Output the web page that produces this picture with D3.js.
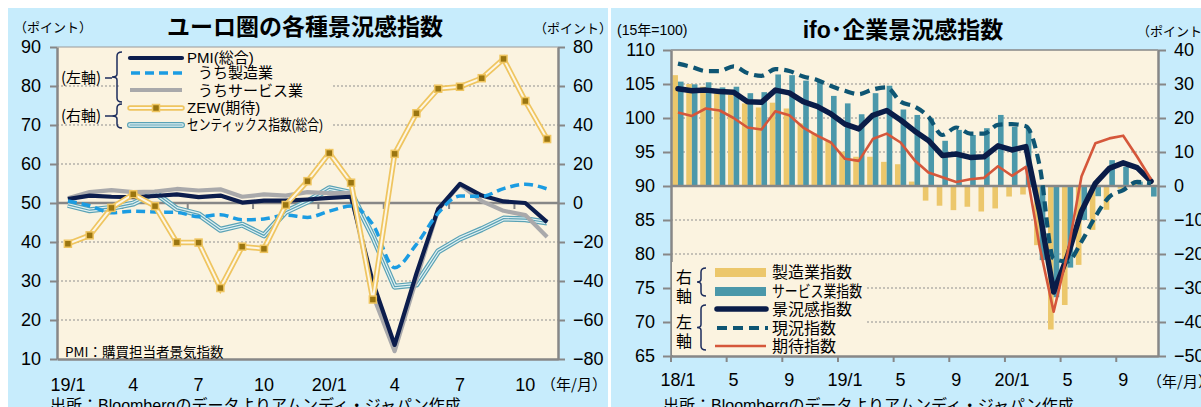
<!DOCTYPE html>
<html lang="ja">
<head>
    <meta charset="UTF-8">
    <title>ユーロ圏・ifo 景況感指数</title>
    <style>
        body { margin: 0; background: #fff; }
        svg text { font-family: "Liberation Sans", "Noto Sans CJK JP", sans-serif; fill: #000; }
        .jp { font-family: "Noto Sans CJK JP", sans-serif; }
    </style>
</head>
<body>

<svg width="1201" height="407"></svg>

<script src="https://cdn.jsdelivr.net/npm/d3@7"></script>
<script>

    // ---------- ユーロ圏 (19/1 - 20/11) ----------
    const euroMonths = ['19/1','19/2','19/3','19/4','19/5','19/6','19/7','19/8','19/9','19/10','19/11','19/12',
                        '20/1','20/2','20/3','20/4','20/5','20/6','20/7','20/8','20/9','20/10','20/11'];
    const euroTickMonths = ['19/1','19/4','19/7','19/10','20/1','20/4','20/7','20/10'];
    const euroTickLabels = ['19/1','4','7','10','20/1','4','7','10'];
    const euroMarkMonths = ['19/4','19/7','19/10','20/1','20/4','20/7','20/10'];

    const pmiComposite     = [51.0, 51.9, 51.6, 51.5, 51.8, 52.2, 51.5, 51.9, 50.1, 50.6, 50.6, 50.9,
                              51.3, 51.6, 29.7, 13.6, 31.9, 48.5, 54.9, 51.9, 50.4, 50.0, 45.1];
    const pmiManufacturing = [50.5, 49.3, 47.5, 47.9, 47.7, 47.6, 46.5, 47.0, 45.7, 45.9, 46.9, 46.3,
                              47.9, 49.2, 44.5, 33.4, 39.4, 47.4, 51.8, 51.7, 53.7, 54.8, 53.6];
    const pmiServices      = [51.2, 52.8, 53.3, 52.8, 52.9, 53.6, 53.2, 53.5, 51.6, 52.2, 51.9, 52.8,
                              52.5, 52.6, 26.4, 12.0, 30.5, 48.3, 54.7, 50.5, 48.0, 46.9, 41.3];
    const zewExpect        = [-20.9, -16.6, -2.5, 4.5, -1.6, -20.2, -20.3, -43.6, -22.4, -23.5, -1.0, 11.2,
                              25.6, 10.4, -49.5, 25.2, 46.0, 58.6, 59.6, 64.0, 73.9, 52.3, 32.8];
    const sentixOverall    = [-1.0, -3.7, -2.5, -0.3, 5.3, -3.0, -5.8, -13.7, -11.1, -16.6, -4.5, 0.7,
                              7.6, 5.2, -17.1, -42.9, -41.8, -24.8, -18.2, -13.4, -8.0, -8.3, -10.0];

    const euroLeftTicks  = [10, 20, 30, 40, 50, 60, 70, 80, 90];
    const euroRightTicks = [-80, -60, -40, -20, 0, 20, 40, 60, 80];

    // ---------- ifo (18/1 - 20/11) ----------
    const ifoMonths = ['18/1','18/2','18/3','18/4','18/5','18/6','18/7','18/8','18/9','18/10','18/11','18/12',
                       '19/1','19/2','19/3','19/4','19/5','19/6','19/7','19/8','19/9','19/10','19/11','19/12',
                       '20/1','20/2','20/3','20/4','20/5','20/6','20/7','20/8','20/9','20/10','20/11'];
    const ifoTickMonths = ['18/1','18/5','18/9','19/1','19/5','19/9','20/1','20/5','20/9'];
    const ifoTickLabels = ['18/1','5','9','19/1','5','9','20/1','5','9'];

    const ifoClimate = [104.3, 104.0, 104.1, 103.9, 103.8, 102.4, 102.3, 104.1, 103.7, 102.4, 101.7, 100.6,
                        99.1, 98.4, 100.4, 101.1, 99.7, 98.1, 96.7, 94.5, 94.7, 94.2, 94.3, 95.9,
                        95.3, 95.8, 86.1, 74.4, 79.7, 86.3, 90.4, 92.6, 93.4, 92.7, 90.7];
    const ifoCurrent = [108.0, 107.5, 106.9, 106.9, 107.6, 106.6, 106.2, 107.2, 106.9, 106.1, 105.6, 104.7,
                        104.0, 103.5, 104.2, 104.5, 102.4, 101.7, 100.2, 97.5, 98.6, 97.7, 97.7, 99.0,
                        99.1, 98.8, 92.9, 79.3, 78.9, 81.8, 85.5, 88.4, 89.4, 90.6, 90.4];
    const ifoExpect  = [100.8, 100.3, 101.4, 101.1, 100.0, 98.6, 98.3, 101.0, 100.4, 98.6, 97.4, 96.4,
                        94.0, 93.7, 96.9, 97.7, 96.4, 93.8, 92.0, 91.3, 90.6, 91.0, 91.2, 92.9,
                        91.5, 92.8, 81.0, 71.5, 80.1, 91.4, 96.3, 97.0, 97.4, 94.3, 91.0];
    const ifoManufacturing = [32.6, 30.0, 29.2, 27.3, 26.8, 24.3, 23.1, 24.5, 22.8, 18.4, 15.5, 13.2,
                              10.1, 8.6, 8.6, 7.1, 6.4, 1.3, -4.3, -5.8, -7.1, -6.1, -7.5, -6.6,
                              -3.1, -2.5, -17.4, -42.2, -35.0, -23.2, -12.9, -7.0, -0.8, 1.3, 0.3];
    const ifoServices      = [30.7, 29.9, 30.5, 29.0, 29.2, 27.3, 27.6, 32.8, 32.6, 31.0, 30.7, 26.5,
                              24.3, 21.1, 27.3, 29.5, 22.5, 20.9, 19.9, 13.3, 16.5, 15.0, 17.0, 20.9,
                              17.4, 16.8, -21.8, -32.7, -24.0, -10.0, -3.0, 7.6, 5.7, 1.3, -3.1];

    const ifoLeftTicks  = [65, 70, 75, 80, 85, 90, 95, 100, 105, 110];
    const ifoRightTicks = [-50, -40, -30, -20, -10, 0, 10, 20, 30, 40];

    // ---------- colours / fonts ----------
    const panelBlue = '#c7ecfc';
    const cream = '#fbf3e0';
    const axisGray = '#878787';
    const gridGray = '#8f8f8f';
    const numFont = '"Liberation Sans", Arial, sans-serif';

    const svg = d3.select('svg');

    // light blue panels
    svg.append('rect').attr('x', 8).attr('y', 8).attr('width', 600).attr('height', 399).attr('fill', panelBlue);
    svg.append('rect').attr('x', 611).attr('y', 8).attr('width', 590).attr('height', 399).attr('fill', panelBlue);

    // helpers
    function addGrid(g, values, scale, x1, x2) {
        g.append('g')
            .selectAll('line')
            .data(values)
            .join('line')
            .attr('x1', x1)
            .attr('x2', x2)
            .attr('y1', d => scale(d))
            .attr('y2', d => scale(d))
            .attr('stroke', gridGray)
            .attr('stroke-width', 1)
            .attr('stroke-dasharray', '2,2');
    }

    function styleAxis(axisG) {
        axisG.attr('font-family', numFont).attr('font-size', 18);
        axisG.select('.domain').attr('stroke', axisGray).attr('stroke-width', 2.5);
        axisG.selectAll('.tick line').attr('stroke', axisGray).attr('stroke-width', 2);
        axisG.selectAll('.tick text').attr('fill', d => (typeof d === 'number' && d < 0) ? '#ff0000' : '#000');
    }

    function brace(g, x, y1, y2, tip) {
        const ym = (y1 + y2) / 2;
        g.append('path')
            .attr('d', 'M' + (x + 5) + ',' + y1 + ' Q' + x + ',' + y1 + ' ' + x + ',' + (y1 + 4) +
                       ' L' + x + ',' + (ym - 3) + ' Q' + x + ',' + ym + ' ' + (x - tip) + ',' + ym +
                       ' Q' + x + ',' + ym + ' ' + x + ',' + (ym + 3) +
                       ' L' + x + ',' + (y2 - 4) + ' Q' + x + ',' + y2 + ' ' + (x + 5) + ',' + y2)
            .attr('fill', 'none')
            .attr('stroke', '#1c2c5c')
            .attr('stroke-width', 1.5);
    }

    // =====================================================
    // Left chart: ユーロ圏の各種景況感指数
    // =====================================================
    const euroX = d3.scaleBand().domain(euroMonths).range([57, 558]);
    const euroCx = m => euroX(m) + euroX.bandwidth() / 2;
    const euroYL = d3.scaleLinear().domain([10, 90]).range([359, 47]);
    const euroYR = d3.scaleLinear().domain([-80, 80]).range([359, 47]);

    const euroG = svg.append('g');

    euroG.append('rect')
        .attr('x', 57).attr('y', 47).attr('width', 501).attr('height', 312)
        .attr('fill', cream);

    addGrid(euroG, euroLeftTicks.filter(v => v !== 10 && v !== 50 && v !== 90), euroYL, 57, 558);

    // top border
    euroG.append('line')
        .attr('x1', 57).attr('x2', 558).attr('y1', 47).attr('y2', 47)
        .attr('stroke', '#9a9a9a').attr('stroke-width', 1);

    // horizontal axis at 50 (= 0 on the right) with month marks
    euroG.append('line')
        .attr('x1', 57).attr('x2', 558)
        .attr('y1', euroYL(50)).attr('y2', euroYL(50))
        .attr('stroke', axisGray).attr('stroke-width', 2.5);

    euroG.append('g')
        .selectAll('line')
        .data(euroMarkMonths)
        .join('line')
        .attr('x1', d => euroX(d)).attr('x2', d => euroX(d))
        .attr('y1', euroYL(50)).attr('y2', euroYL(50) + 6)
        .attr('stroke', axisGray).attr('stroke-width', 2);

    const euroAxisL = euroG.append('g')
        .attr('transform', 'translate(57,0)')
        .call(d3.axisLeft(euroYL).tickValues(euroLeftTicks).tickSize(7).tickSizeOuter(0).tickPadding(9));
    styleAxis(euroAxisL);

    const euroAxisR = euroG.append('g')
        .attr('transform', 'translate(558,0)')
        .call(d3.axisRight(euroYR).tickValues(euroRightTicks).tickSize(7).tickSizeOuter(0).tickPadding(8));
    styleAxis(euroAxisR);

    const euroAxisB = euroG.append('g')
        .attr('transform', 'translate(0,359)')
        .call(d3.axisBottom(euroX).tickValues(euroTickMonths).tickSize(0).tickSizeOuter(0).tickPadding(19)
            .tickFormat(d => euroTickLabels[euroTickMonths.indexOf(d)]));
    styleAxis(euroAxisB);

    // series
    const euroLineL = d3.line().x((d, i) => euroCx(euroMonths[i])).y(d => euroYL(d));
    const euroLineR = d3.line().x((d, i) => euroCx(euroMonths[i])).y(d => euroYR(d));

    // Sentix: triple stroke
    [['#5aa2b5', 6], ['#e2f1f2', 3.6], ['#5aa2b5', 1.2]].forEach(s => {
        euroG.append('path').datum(sentixOverall)
            .attr('d', euroLineR)
            .attr('fill', 'none').attr('stroke', s[0]).attr('stroke-width', s[1])
            .attr('stroke-linejoin', 'round');
    });

    euroG.append('path').datum(pmiServices)
        .attr('d', euroLineL)
        .attr('fill', 'none').attr('stroke', '#a9a9ab').attr('stroke-width', 4.2)
        .attr('stroke-linejoin', 'round');

    euroG.append('path').datum(pmiComposite)
        .attr('d', euroLineL)
        .attr('fill', 'none').attr('stroke', '#0c1d4d').attr('stroke-width', 4.2)
        .attr('stroke-linejoin', 'round');

    euroG.append('path').datum(pmiManufacturing)
        .attr('d', euroLineL.curve(d3.curveMonotoneX))
        .attr('fill', 'none').attr('stroke', '#1b9ce2').attr('stroke-width', 3.5)
        .attr('stroke-dasharray', '9,5');
    euroLineL.curve(d3.curveLinear);

    // ZEW: outlined line with square markers
    [['#efc560', 5.5], ['#fdf6e4', 2]].forEach(s => {
        euroG.append('path').datum(zewExpect)
            .attr('d', euroLineR)
            .attr('fill', 'none').attr('stroke', s[0]).attr('stroke-width', s[1])
            .attr('stroke-linejoin', 'miter');
    });
    euroG.append('g')
        .selectAll('rect')
        .data(zewExpect)
        .join('rect')
        .attr('x', (d, i) => euroCx(euroMonths[i]) - 3.5)
        .attr('y', d => euroYR(d) - 3.5)
        .attr('width', 7).attr('height', 7)
        .attr('fill', '#9a7510').attr('stroke', '#efc560').attr('stroke-width', 1.5);

    // legend
    const euroLeg = euroG.append('g');
    euroLeg.append('rect').attr('x', 119).attr('y', 48).attr('width', 213).attr('height', 88).attr('fill', cream);

    euroLeg.append('text').attr('class', 'jp').attr('x', 61).attr('y', 83).attr('font-size', 15).text('(左軸)');
    euroLeg.append('text').attr('class', 'jp').attr('x', 61).attr('y', 121).attr('font-size', 15).text('(右軸)');
    euroLeg.append('line').attr('x1', 105).attr('x2', 112).attr('y1', 78).attr('y2', 78).attr('stroke', '#1c2c5c').attr('stroke-width', 1.5);
    euroLeg.append('line').attr('x1', 105).attr('x2', 112).attr('y1', 116).attr('y2', 116).attr('stroke', '#1c2c5c').attr('stroke-width', 1.5);
    brace(euroLeg, 117, 52, 102, 5);
    brace(euroLeg, 117, 104, 128, 5);

    euroLeg.append('line').attr('x1', 130).attr('x2', 182).attr('y1', 58).attr('y2', 58)
        .attr('stroke', '#0c1d4d').attr('stroke-width', 4.2).attr('stroke-linecap', 'round');
    euroLeg.append('line').attr('x1', 131).attr('x2', 182).attr('y1', 73).attr('y2', 73)
        .attr('stroke', '#1b9ce2').attr('stroke-width', 3.5).attr('stroke-dasharray', '9,5');
    euroLeg.append('line').attr('x1', 130).attr('x2', 182).attr('y1', 90).attr('y2', 90)
        .attr('stroke', '#a9a9ab').attr('stroke-width', 4.2);
    [['#efc560', 5.5], ['#fdf6e4', 2]].forEach(s => {
        euroLeg.append('line').attr('x1', 130).attr('x2', 182).attr('y1', 108).attr('y2', 108)
            .attr('stroke', s[0]).attr('stroke-width', s[1]).attr('stroke-linecap', 'round');
    });
    euroLeg.append('rect').attr('x', 152.5).attr('y', 104.5).attr('width', 7).attr('height', 7)
        .attr('fill', '#9a7510').attr('stroke', '#efc560').attr('stroke-width', 1.5);
    [['#5aa2b5', 6], ['#e2f1f2', 3.6], ['#5aa2b5', 1.2]].forEach(s => {
        euroLeg.append('line').attr('x1', 130).attr('x2', 182).attr('y1', 125).attr('y2', 125)
            .attr('stroke', s[0]).attr('stroke-width', s[1]).attr('stroke-linecap', 'round');
    });

    euroLeg.append('text').attr('x', 187).attr('y', 63).attr('font-size', 15).text('PMI(総合)');
    euroLeg.append('text').attr('class', 'jp').attr('x', 198).attr('y', 78).attr('font-size', 15).text('うち製造業');
    euroLeg.append('text').attr('class', 'jp').attr('x', 198).attr('y', 96).attr('font-size', 15).text('うちサービス業');
    euroLeg.append('text').attr('x', 187).attr('y', 113).attr('font-size', 15).text('ZEW(期待)');
    euroLeg.append('text').attr('x', 187).attr('y', 130).attr('font-size', 15)
        .attr('textLength', 136).attr('lengthAdjust', 'spacingAndGlyphs').text('センティックス指数(総合)');

    euroG.append('text').attr('class', 'jp').attr('x', 65).attr('y', 357).attr('font-size', 13.5).text('PMI：購買担当者景気指数');

    // titles and notes
    svg.append('text').attr('class', 'jp').attr('x', 305).attr('y', 34.5)
        .attr('text-anchor', 'middle').attr('font-size', 23).attr('font-weight', 'bold')
        .text('ユーロ圏の各種景況感指数');
    svg.append('text').attr('class', 'jp').attr('x', 14).attr('y', 32).attr('font-size', 13).text('（ポイント）');
    svg.append('text').attr('class', 'jp').attr('x', 534).attr('y', 33).attr('font-size', 13).text('（ポイント）');
    svg.append('text').attr('class', 'jp').attr('x', 541).attr('y', 390).attr('font-size', 15).text('（年/月）');
    svg.append('text').attr('x', 50).attr('y', 411).attr('font-size', 16)
        .text('出所：Bloombergのデータよりアムンディ・ジャパン作成');

    // =====================================================
    // Right chart: ifo・企業景況感指数
    // =====================================================
    const ifoX = d3.scaleBand().domain(ifoMonths).range([671, 1158]);
    const ifoCx = m => ifoX(m) + ifoX.bandwidth() / 2;
    const ifoYL = d3.scaleLinear().domain([65, 110]).range([356, 50]);
    const ifoYR = d3.scaleLinear().domain([-50, 40]).range([356, 50]);
    const ifoSub = d3.scaleBand().domain(['mfg', 'svc']).range([0, ifoX.bandwidth()]).paddingOuter(0.24);

    const ifoG = svg.append('g');

    ifoG.append('rect')
        .attr('x', 671).attr('y', 50).attr('width', 487).attr('height', 306)
        .attr('fill', cream);

    addGrid(ifoG, ifoLeftTicks.filter(v => v !== 65 && v !== 90 && v !== 110), ifoYL, 671, 1158);

    ifoG.append('line')
        .attr('x1', 671).attr('x2', 1158).attr('y1', 50).attr('y2', 50)
        .attr('stroke', axisGray).attr('stroke-width', 1.5);

    // bars (right axis)
    const barsData = ifoMonths.map((m, i) => ({ m: m, mfg: ifoManufacturing[i], svc: ifoServices[i] }));
    const barG = ifoG.append('g');
    ['mfg', 'svc'].forEach(key => {
        barG.selectAll('rect.' + key)
            .data(barsData)
            .join('rect')
            .attr('class', key)
            .attr('x', d => ifoX(d.m) + ifoSub(key))
            .attr('width', ifoSub.bandwidth())
            .attr('y', d => ifoYR(Math.max(0, d[key])))
            .attr('height', d => Math.abs(ifoYR(d[key]) - ifoYR(0)))
            .attr('fill', key === 'mfg' ? '#ecc76b' : '#4b98aa');
    });

    ifoG.append('line')
        .attr('x1', 671).attr('x2', 1158)
        .attr('y1', ifoYL(90)).attr('y2', ifoYL(90))
        .attr('stroke', axisGray).attr('stroke-width', 2.5);

    const ifoAxisL = ifoG.append('g')
        .attr('transform', 'translate(671,0)')
        .call(d3.axisLeft(ifoYL).tickValues(ifoLeftTicks).tickSize(8).tickSizeOuter(0).tickPadding(8));
    styleAxis(ifoAxisL);

    const ifoAxisR = ifoG.append('g')
        .attr('transform', 'translate(1158,0)')
        .call(d3.axisRight(ifoYR).tickValues(ifoRightTicks).tickSize(8).tickSizeOuter(0).tickPadding(8));
    styleAxis(ifoAxisR);

    const ifoAxisB = ifoG.append('g')
        .attr('transform', 'translate(0,356)')
        .call(d3.axisBottom(ifoX).tickValues(ifoTickMonths).tickSize(0).tickSizeOuter(0).tickPadding(17)
            .tickFormat(d => ifoTickLabels[ifoTickMonths.indexOf(d)]));
    styleAxis(ifoAxisB);

    ifoG.append('g')
        .selectAll('line')
        .data(ifoTickMonths)
        .join('line')
        .attr('x1', d => ifoX(d)).attr('x2', d => ifoX(d))
        .attr('y1', 356).attr('y2', 362)
        .attr('stroke', axisGray).attr('stroke-width', 2);

    const ifoLine = d3.line().x((d, i) => ifoCx(ifoMonths[i])).y(d => ifoYL(d));

    ifoG.append('path').datum(ifoClimate)
        .attr('d', ifoLine)
        .attr('fill', 'none').attr('stroke', '#0a1c48').attr('stroke-width', 5.5)
        .attr('stroke-linejoin', 'round').attr('stroke-linecap', 'round');

    ifoG.append('path').datum(ifoCurrent)
        .attr('d', ifoLine.curve(d3.curveMonotoneX))
        .attr('fill', 'none').attr('stroke', '#0e5573').attr('stroke-width', 4.2)
        .attr('stroke-dasharray', '10,6');
    ifoLine.curve(d3.curveLinear);

    ifoG.append('path').datum(ifoExpect)
        .attr('d', ifoLine)
        .attr('fill', 'none').attr('stroke', '#d5573b').attr('stroke-width', 2.6)
        .attr('stroke-linejoin', 'round');

    // legend
    const ifoLeg = ifoG.append('g');
    ifoLeg.append('rect').attr('x', 672).attr('y', 262).attr('width', 194).attr('height', 93).attr('fill', cream);

    ifoLeg.append('text').attr('class', 'jp').attr('x', 676).attr('y', 283).attr('font-size', 16).text('右');
    ifoLeg.append('text').attr('class', 'jp').attr('x', 676).attr('y', 302).attr('font-size', 16).text('軸');
    ifoLeg.append('text').attr('class', 'jp').attr('x', 676).attr('y', 328).attr('font-size', 16).text('左');
    ifoLeg.append('text').attr('class', 'jp').attr('x', 676).attr('y', 347).attr('font-size', 16).text('軸');
    brace(ifoLeg, 701, 268, 296, 4);
    brace(ifoLeg, 701, 305, 350, 4);

    ifoLeg.append('rect').attr('x', 715).attr('y', 268).attr('width', 51).attr('height', 9).attr('fill', '#ecc76b');
    ifoLeg.append('rect').attr('x', 715).attr('y', 287).attr('width', 51).attr('height', 9).attr('fill', '#4b98aa');
    ifoLeg.append('line').attr('x1', 717).attr('x2', 766).attr('y1', 309).attr('y2', 309)
        .attr('stroke', '#0a1c48').attr('stroke-width', 5.5).attr('stroke-linecap', 'round');
    ifoLeg.append('line').attr('x1', 717).attr('x2', 768).attr('y1', 328).attr('y2', 328)
        .attr('stroke', '#0e5573').attr('stroke-width', 4.2).attr('stroke-dasharray', '10,6');
    ifoLeg.append('line').attr('x1', 715).attr('x2', 766).attr('y1', 346).attr('y2', 346)
        .attr('stroke', '#d5573b').attr('stroke-width', 2.6);

    ifoLeg.append('text').attr('class', 'jp').attr('x', 772).attr('y', 278).attr('font-size', 16).text('製造業指数');
    ifoLeg.append('text').attr('class', 'jp').attr('x', 772).attr('y', 297).attr('font-size', 16)
        .attr('textLength', 90).attr('lengthAdjust', 'spacingAndGlyphs').text('サービス業指数');
    ifoLeg.append('text').attr('class', 'jp').attr('x', 772).attr('y', 315).attr('font-size', 16).text('景況感指数');
    ifoLeg.append('text').attr('class', 'jp').attr('x', 772).attr('y', 334).attr('font-size', 16).text('現況指数');
    ifoLeg.append('text').attr('class', 'jp').attr('x', 772).attr('y', 352).attr('font-size', 16).text('期待指数');

    svg.append('text').attr('x', 903).attr('y', 38).attr('text-anchor', 'middle')
        .attr('font-size', 23).attr('font-weight', 'bold').text('ifo･企業景況感指数');
    svg.append('text').attr('x', 617).attr('y', 35).attr('font-size', 14).text('(15年=100)');
    svg.append('text').attr('class', 'jp').attr('x', 1137).attr('y', 36).attr('font-size', 13).text('（ポイント）');
    svg.append('text').attr('class', 'jp').attr('x', 1147).attr('y', 387).attr('font-size', 15).text('（年/月）');
    svg.append('text').attr('x', 663).attr('y', 411).attr('font-size', 16)
        .text('出所：Bloombergのデータよりアムンディ・ジャパン作成');

</script>
</body>
</html>
